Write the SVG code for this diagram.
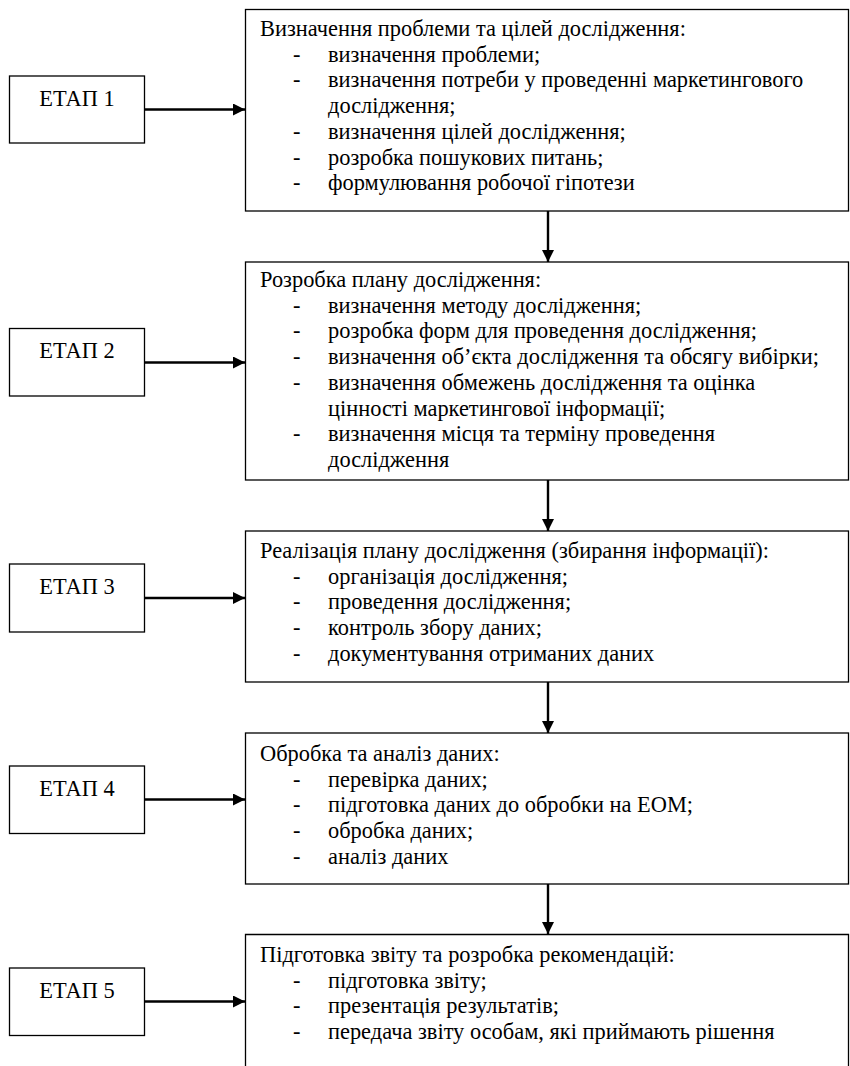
<svg xmlns="http://www.w3.org/2000/svg" width="850" height="1066" viewBox="0 0 850 1066">
<defs>
<style>
.box{fill:#fff;stroke:#000;stroke-width:1.3}
.t{font-family:'Liberation Serif','Times New Roman',serif;font-size:22.4px;fill:#000}
.et{font-family:'Liberation Serif','Times New Roman',serif;font-size:22.4px;fill:#000;text-anchor:middle}
.ar{stroke:#000;stroke-width:2.4;fill:none;marker-end:url(#ah)}
</style>
<marker id="ah" markerUnits="userSpaceOnUse" markerWidth="12" markerHeight="12" refX="12" refY="6" orient="auto">
<path d="M0,0 L12,6 L0,12 Z" fill="#000"/>
</marker>
</defs>
<rect width="850" height="1066" fill="#fff"/>
<g id="connectors">
<line class="ar" x1="144.5" y1="109.5" x2="245" y2="109.5"/>
<line class="ar" x1="144.5" y1="362.5" x2="245" y2="362.5"/>
<line class="ar" x1="144.5" y1="598" x2="245" y2="598"/>
<line class="ar" x1="144.5" y1="799.5" x2="245" y2="799.5"/>
<line class="ar" x1="144.5" y1="1001.5" x2="245" y2="1001.5"/>
<line class="ar" x1="548" y1="211" x2="548" y2="262"/>
<line class="ar" x1="548" y1="480" x2="548" y2="531"/>
<line class="ar" x1="548" y1="682" x2="548" y2="733"/>
<line class="ar" x1="548" y1="884" x2="548" y2="934"/>
</g>
<g font-family="Liberation Serif, serif">
<g id="etap1"><rect class="box" x="9.5" y="76" width="135" height="67"/><text class="et" x="77" y="106">ЕТАП 1</text></g>
<g id="etap2"><rect class="box" x="9.5" y="328.5" width="135" height="67.5"/><text class="et" x="77" y="358">ЕТАП 2</text></g>
<g id="etap3"><rect class="box" x="9.5" y="564" width="135" height="68"/><text class="et" x="77" y="594">ЕТАП 3</text></g>
<g id="etap4"><rect class="box" x="9.5" y="766" width="135" height="67.5"/><text class="et" x="77" y="796">ЕТАП 4</text></g>
<g id="etap5"><rect class="box" x="9.5" y="968" width="135" height="67.5"/><text class="et" x="77" y="998">ЕТАП 5</text></g>
<g id="step1">
<rect class="box" x="245.5" y="9.5" width="603" height="201.5"/>
<text class="t" x="260" y="36">Визначення проблеми та цілей дослідження:</text>
<text class="t" x="293" y="61.7">-</text><text class="t" x="328" y="61.7">визначення проблеми;</text>
<text class="t" x="293" y="87.4">-</text><text class="t" x="328" y="87.4">визначення потреби у проведенні маркетингового</text>
<text class="t" x="328" y="113">дослідження;</text>
<text class="t" x="293" y="138.8">-</text><text class="t" x="328" y="138.8">визначення цілей дослідження;</text>
<text class="t" x="293" y="164.5">-</text><text class="t" x="328" y="164.5">розробка пошукових питань;</text>
<text class="t" x="293" y="190">-</text><text class="t" x="328" y="190">формулювання робочої гіпотези</text>
</g>
<g id="step2">
<rect class="box" x="245.5" y="262" width="603" height="218"/>
<text class="t" x="260" y="287">Розробка плану дослідження:</text>
<text class="t" x="293" y="312.7">-</text><text class="t" x="328" y="312.7">визначення методу дослідження;</text>
<text class="t" x="293" y="338.4">-</text><text class="t" x="328" y="338.4">розробка форм для проведення дослідження;</text>
<text class="t" x="293" y="364">-</text><text class="t" x="328" y="364">визначення об’єкта дослідження та обсягу вибірки;</text>
<text class="t" x="293" y="389.8">-</text><text class="t" x="328" y="389.8">визначення обмежень дослідження та оцінка</text>
<text class="t" x="328" y="415.5">цінності маркетингової інформації;</text>
<text class="t" x="293" y="441">-</text><text class="t" x="328" y="441">визначення місця та терміну проведення</text>
<text class="t" x="328" y="467">дослідження</text>
</g>
<g id="step3">
<rect class="box" x="245.5" y="531" width="603" height="151"/>
<text class="t" x="260" y="558">Реалізація плану дослідження (збирання інформації):</text>
<text class="t" x="293" y="583.7">-</text><text class="t" x="328" y="583.7">організація дослідження;</text>
<text class="t" x="293" y="609.4">-</text><text class="t" x="328" y="609.4">проведення дослідження;</text>
<text class="t" x="293" y="635">-</text><text class="t" x="328" y="635">контроль збору даних;</text>
<text class="t" x="293" y="660.8">-</text><text class="t" x="328" y="660.8">документування отриманих даних</text>
</g>
<g id="step4">
<rect class="box" x="245.5" y="733" width="603" height="151"/>
<text class="t" x="260" y="761">Обробка та аналіз даних:</text>
<text class="t" x="293" y="786.7">-</text><text class="t" x="328" y="786.7">перевірка даних;</text>
<text class="t" x="293" y="812.4">-</text><text class="t" x="328" y="812.4">підготовка даних до обробки на ЕОМ;</text>
<text class="t" x="293" y="838">-</text><text class="t" x="328" y="838">обробка даних;</text>
<text class="t" x="293" y="863.8">-</text><text class="t" x="328" y="863.8">аналіз даних</text>
</g>
<g id="step5">
<path class="box" d="M245.5,1070 V934.5 H848.5 V1070"/>
<text class="t" x="260" y="962">Підготовка звіту та розробка рекомендацій:</text>
<text class="t" x="293" y="987.7">-</text><text class="t" x="328" y="987.7">підготовка звіту;</text>
<text class="t" x="293" y="1013.4">-</text><text class="t" x="328" y="1013.4">презентація результатів;</text>
<text class="t" x="293" y="1039">-</text><text class="t" x="328" y="1039">передача звіту особам, які приймають рішення</text>
</g>
</g>
</svg>
